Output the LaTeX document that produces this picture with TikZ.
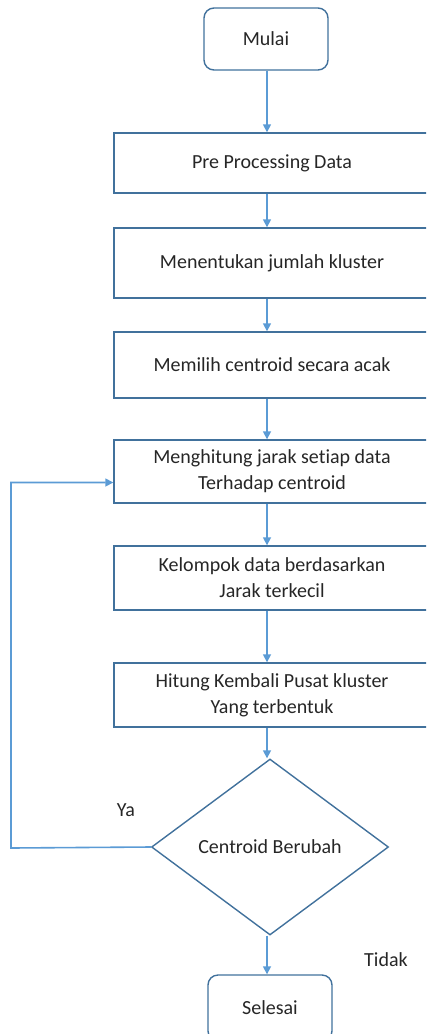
\documentclass[tikz,border=0pt]{standalone}
\usepackage{fontspec}
\setmainfont{Carlito}[Ligatures=NoCommon]
\usetikzlibrary{arrows.meta,shapes.geometric}
\definecolor{boxline}{HTML}{41719C}
\definecolor{flowline}{HTML}{5B9BD5}
\definecolor{textgray}{HTML}{262626}
\begin{document}
\begin{tikzpicture}[x=1pt, y=-1pt, font=\fontsize{20}{26}\selectfont, text=textgray,
    flow/.style={draw=flowline, line width=1.6pt, -{Triangle[length=8pt,width=8pt]}},
    stepbox/.style={draw=boxline, line width=1.4pt, minimum width=316pt, inner sep=0pt, align=center},
    endbox/.style={draw=boxline, line width=1.4pt, rounded corners=10pt, minimum width=124pt}]
      \useasboundingbox (0,0) rectangle (426,1034);
      \clip (0,0) rectangle (426,1034);
      % Nodes
      \node[endbox, minimum height=62pt] at (266, 39) (mulai) {Mulai};
      \node[stepbox, minimum height=60pt] at (272, 163) (pre) {Pre Processing Data};
      \node[stepbox, minimum height=70pt] at (272, 263) (jumlah) {Menentukan jumlah kluster};
      \node[stepbox, minimum height=66pt] at (272, 365) (pilih) {Memilih centroid secara acak};
      \node[stepbox, minimum height=63pt] at (272, 471.5) (jarak) {Menghitung jarak setiap data\\Terhadap centroid};
      \node[stepbox, minimum height=64pt] at (272, 578) (kelompok) {Kelompok data berdasarkan\\Jarak terkecil};
      \node[stepbox, minimum height=64pt] at (272, 695) (pusat) {Hitung Kembali Pusat kluster\\Yang terbentuk};
      \node[diamond, draw=boxline, line width=1.4pt, inner sep=0pt, minimum width=237pt, minimum height=176pt] at (270, 847) (cek) {Centroid Berubah\\[14pt]};
      \node[endbox, minimum height=66pt] at (270, 1008) (selesai) {Selesai};

      \node at (126, 810) (ya) {Ya};
      \node at (386, 960) (tidak) {Tidak};

      % Connectors
      \draw[flow] (mulai.south -| 267,0) -- (pre.north -| 267,0);
      \draw[flow] (pre.south -| 267,0) -- (jumlah.north -| 267,0);
      \draw[flow] (jumlah.south -| 267,0) -- (pilih.north -| 267,0);
      \draw[flow] (pilih.south -| 267,0) -- (jarak.north -| 267,0);
      \draw[flow] (jarak.south -| 267,0) -- (kelompok.north -| 267,0);
      \draw[flow] (kelompok.south -| 267,0) -- (pusat.north -| 267,0);
      \draw[flow] (pusat.south -| 267,0) -- (cek.north -| 267,0);
      \draw[flow] (cek.south -| 267,0) -- (selesai.north -| 267,0);

      \draw[flow] (cek.west) -- (11, 848) |- ([yshift=-11pt]jarak.west);
    \end{tikzpicture}
\end{document}
